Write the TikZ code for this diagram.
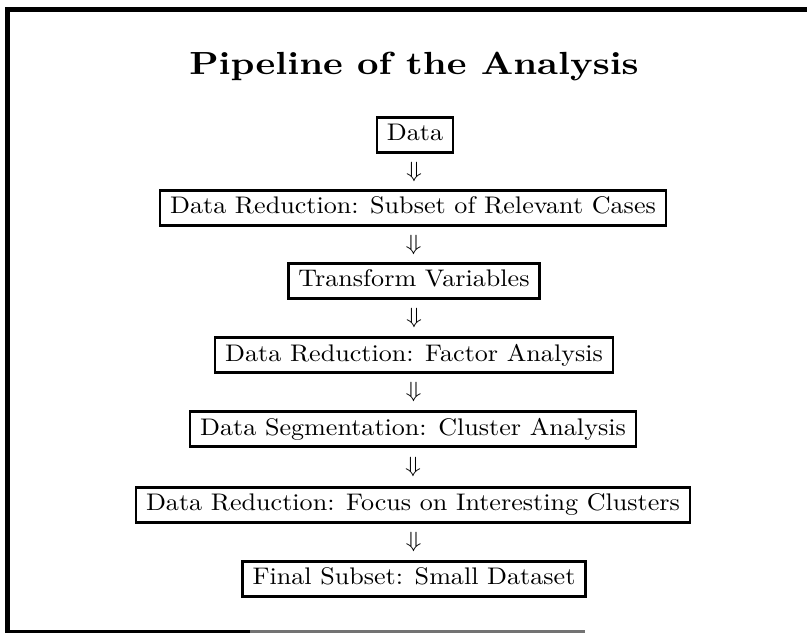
\documentclass[tikz,border=0pt]{standalone}
\usepackage{graphicx}
\newcommand{\bodytxt}[1]{\scalebox{2.61}[2.4]{\vphantom{Dg}#1}}
\newcommand{\arrtxt}{\scalebox{2.61}[2.2]{$\Downarrow$}}
\begin{document}
\begin{tikzpicture}[x=1pt,y=-1pt,
  stage/.style={draw, line width=2.6pt, inner xsep=10pt, inner ysep=0pt, minimum height=35pt},
  flowlabel/.style={inner sep=0pt}]
\useasboundingbox (0,0) rectangle (807,633);
% outer frame (left, top, bottom)
\draw[line width=5pt] (807,9.5) -- (7.5,9.5) -- (7.5,632);
\draw[line width=3pt] (5,631) -- (250,631);
\draw[line width=3pt, black!55] (250,631) -- (585,631);
% title
\node[anchor=base, inner sep=0pt] (title) at (414,74) {\scalebox{3.74}[3.2]{\bfseries Pipeline of the Analysis}};
% stages
\node[stage] (s1) at (415,135) {\bodytxt{Data}};
\node[stage] (s2) at (413,208) {\bodytxt{Data Reduction: Subset of Relevant Cases}};
\node[stage] (s3) at (414,281) {\bodytxt{Transform Variables}};
\node[stage] (s4) at (414,355) {\bodytxt{Data Reduction: Factor Analysis}};
\node[stage] (s5) at (413,429) {\bodytxt{Data Segmentation: Cluster Analysis}};
\node[stage] (s6) at (413,505) {\bodytxt{Data Reduction: Focus on Interesting Clusters}};
\node[stage] (s7) at (414,579) {\bodytxt{Final Subset: Small Dataset}};
% arrows
\path (s1) -- node[flowlabel] (a1) {\arrtxt} (s2);
\path (s2) -- node[flowlabel] (a2) {\arrtxt} (s3);
\path (s3) -- node[flowlabel] (a3) {\arrtxt} (s4);
\path (s4) -- node[flowlabel] (a4) {\arrtxt} (s5);
\path (s5) -- node[flowlabel] (a5) {\arrtxt} (s6);
\path (s6) -- node[flowlabel] (a6) {\arrtxt} (s7);
\end{tikzpicture}
\end{document}
